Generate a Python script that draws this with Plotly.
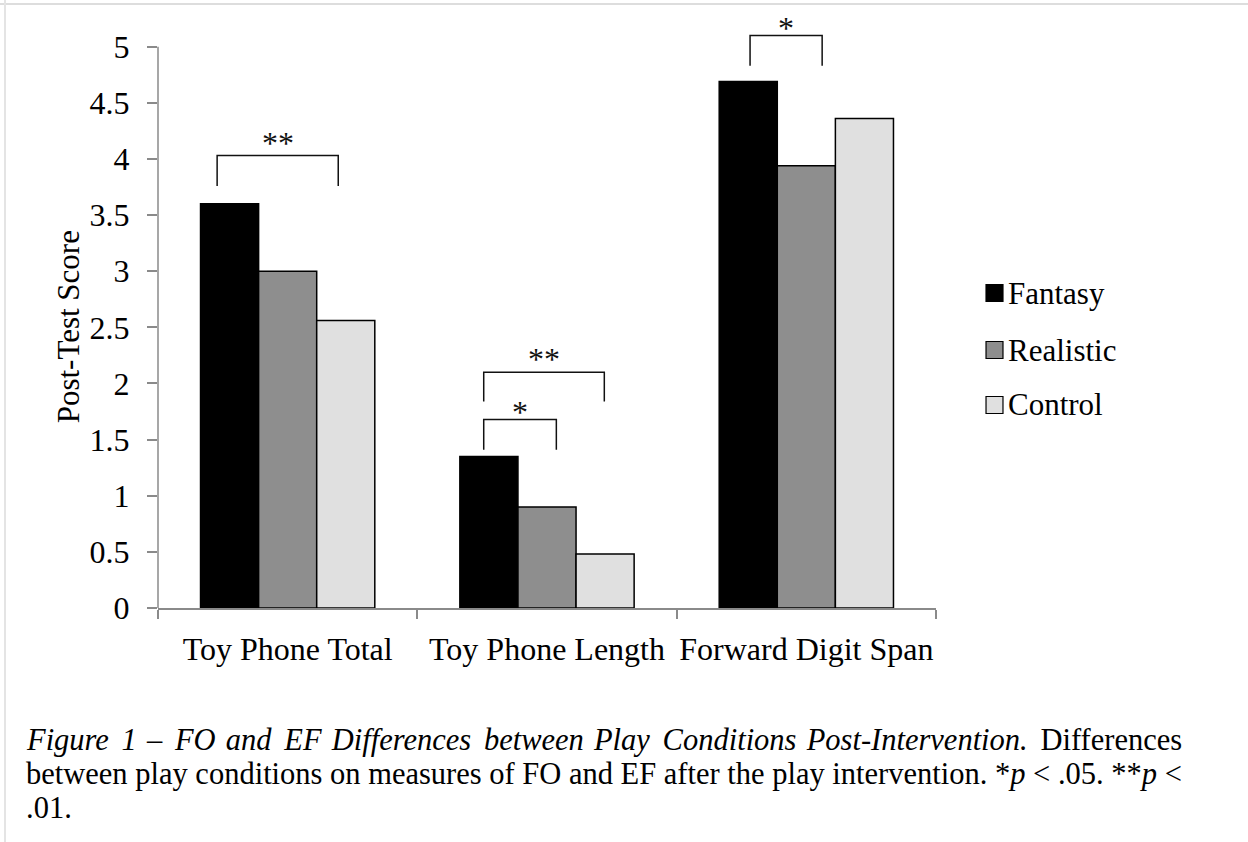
import plotly.graph_objects as go

# Post-test scores by measure and play condition
measures = ["Toy Phone Total", "Toy Phone Length", "Forward Digit Span"]
conditions = ["Fantasy", "Realistic", "Control"]
fantasy = [3.60, 1.35, 4.69]
realistic = [3.00, 0.90, 3.94]
control = [2.56, 0.48, 4.36]
colors = ["#000000", "#8e8e8e", "#e0e0e0"]

# Significance brackets: (left x, right x, top y, leg bottom y, label), x in category units
brackets = [
    (-0.272, 0.195, 4.03, 3.76, "**"),
    (0.756, 1.221, 2.10, 1.84, "**"),
    (0.756, 1.036, 1.68, 1.41, "*"),
    (1.783, 2.061, 5.10, 4.83, "*"),
]

y_ticks = [0, 0.5, 1, 1.5, 2, 2.5, 3, 3.5, 4, 4.5, 5]
y_tick_text = ["0", "0.5", "1", "1.5", "2", "2.5", "3", "3.5", "4", "4.5", "5"]


def justify(text, pattern):
    """Widen word gaps with hair spaces (counts cycle through pattern)."""
    words = text.split(" ")
    out = words[0]
    for i, w in enumerate(words[1:]):
        out += " " + "\u200a" * pattern[i % len(pattern)] + w
    return out


caption_lines = [
    justify("<i>Figure 1 – FO and EF Differences between Play Conditions Post-Intervention.</i> Differences",
            [2, 1]),
    "between play conditions on measures of FO and EF after the play intervention. *<i>p</i> &lt; .05. **<i>p</i> &lt;",
    ".01.",
]

FONT = "Liberation Serif, Times New Roman, serif"
AXIS_GRAY = "#8a8a8a"

fig = go.Figure()
for name, vals, col in zip(conditions, [fantasy, realistic, control], colors):
    fig.add_trace(go.Bar(
        x=measures, y=vals, name=name,
        marker=dict(color=col, line=dict(color="#000000", width=1.5)),
        showlegend=False,
    ))

shapes = []
annotations = []

# y axis line only spans the tick range
shapes.append(dict(type="line", xref="paper", yref="y", x0=0, x1=0, y0=0, y1=5,
                   line=dict(color=AXIS_GRAY, width=1.5)))

for x0, x1, yt, yb, lab in brackets:
    shapes.append(dict(type="path", xref="x", yref="y",
                       path=f"M {x0},{yb} L {x0},{yt} L {x1},{yt} L {x1},{yb}",
                       line=dict(color="#111111", width=1.5)))
    annotations.append(dict(x=(x0 + x1) / 2, y=yt, xref="x", yref="y", text=lab,
                            showarrow=False, yanchor="bottom",
                            yshift=-13 if lab == "*" else -7,
                            font=dict(family=FONT, size=32, color="#111111")))

# y axis title, centred on the 0–5 span
annotations.append(dict(x=(68 - 158) / 778, y=2.5, xref="paper", yref="y",
                        text="Post-Test Score", textangle=-90, showarrow=False,
                        xanchor="center", yanchor="middle",
                        font=dict(family=FONT, size=31, color="#000000")))

# legend keys
leg_y = [0.5294, 0.4336, 0.3412]
for name, col, yc in zip(conditions, colors, leg_y):
    shapes.append(dict(type="rect", xref="paper", yref="paper",
                       x0=1.0643, x1=1.0861, y0=yc - 0.0143, y1=yc + 0.0143,
                       fillcolor=col, line=dict(color="#000000", width=1.2)))
    annotations.append(dict(x=1.0905, y=yc, xref="paper", yref="paper", text=name,
                            showarrow=False, xanchor="left", yanchor="middle",
                            font=dict(family=FONT, size=31, color="#000000")))

# caption
cap_y = [740, 774, 808]
for line, py in zip(caption_lines, cap_y):
    annotations.append(dict(x=-0.172, y=(608 - py) / 595, xref="paper", yref="paper",
                            text=line, showarrow=False, xanchor="left", yanchor="middle",
                            align="left", font=dict(family=FONT, size=30.5, color="#000000")))

# frame lines at top and left edge
shapes.append(dict(type="line", xref="paper", yref="paper", x0=-0.25, x1=1.5,
                   y0=(608 - 4) / 595, y1=(608 - 4) / 595, line=dict(color="#dddddd", width=2)))
shapes.append(dict(type="line", xref="paper", yref="paper", x0=(5 - 158) / 778, x1=(5 - 158) / 778,
                   y0=-0.5, y1=1.1, line=dict(color="#e4e4e4", width=2)))

fig.update_layout(
    width=1248, height=842,
    margin=dict(l=158, r=312, t=13, b=234, autoexpand=False),
    paper_bgcolor="white", plot_bgcolor="white",
    barmode="group", bargap=0.328, bargroupgap=0,
    font=dict(family=FONT, size=32, color="#000000"),
    shapes=shapes, annotations=annotations,
    xaxis=dict(type="category", showline=True, linecolor=AXIS_GRAY, linewidth=1.5,
               ticks="outside", tickson="boundaries", ticklen=9, tickcolor=AXIS_GRAY,
               tickwidth=1.5, showgrid=False, zeroline=False, ticklabelstandoff=12,
               tickangle=0, tickfont=dict(family=FONT, size=32), range=[-0.5, 2.5]),
    yaxis=dict(range=[0, 5.3], tickvals=y_ticks, ticktext=y_tick_text, showline=False,
               ticks="outside", ticklen=10, tickcolor=AXIS_GRAY, tickwidth=1.5,
               showgrid=False, zeroline=False, ticklabelstandoff=11,
               tickfont=dict(family=FONT, size=32)),
)

fig.write_html("out.html")
